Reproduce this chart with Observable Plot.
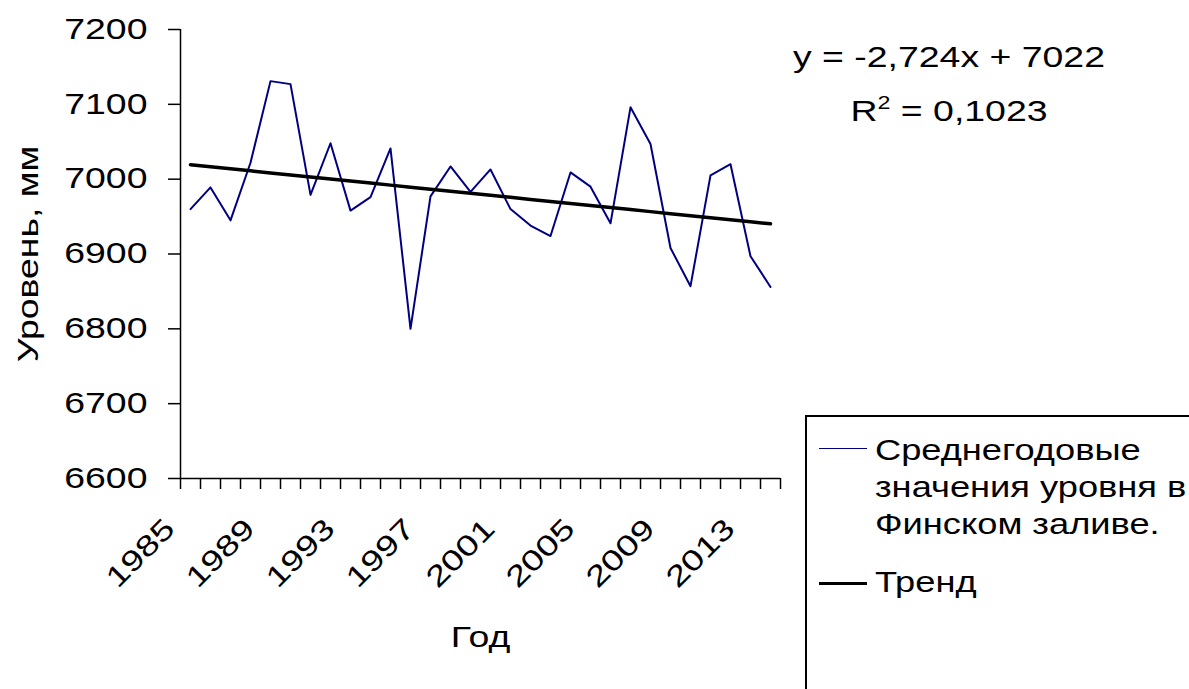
<!DOCTYPE html>
<html>
<head>
<meta charset="utf-8">
<script src="https://cdn.jsdelivr.net/npm/d3@7"></script>
<script src="https://cdn.jsdelivr.net/npm/@observablehq/plot@0.6"></script>
<style>
  html, body { margin: 0; padding: 0; background: #fff; overflow: hidden; }
  #wrap { position: relative; width: 1189px; height: 689px; font-family: "Liberation Sans", Arial, sans-serif; color: #000; }
  #chart { position: absolute; left: 0; top: 0; }
  .eq { position: absolute; font-size: 29px; line-height: 29px; white-space: nowrap; text-align: center; width: 400px; left: 749px; transform: scaleX(1.29); transform-origin: 200px 50%; }
  .eq sup { font-size: 18px; position: relative; top: -3px; vertical-align: top; line-height: 18px; }
  #legend { position: absolute; left: 805px; top: 415px; width: 420px; height: 320px; border: 2px solid #000; box-sizing: border-box; }
  .lgline { position: absolute; left: 12px; width: 48px; }
  .lgtext { position: absolute; left: 68px; font-size: 29px; line-height: 37px; white-space: nowrap; transform: scaleX(1.25); transform-origin: 0 50%; }
</style>
</head>
<body>
<div id="wrap">
  <div id="chart"></div>
  <div class="eq" style="top:43px">y = -2,724x + 7022</div>
  <div class="eq" style="top:97px">R<sup>2</sup> = 0,1023</div>
  <div id="legend">
    <div class="lgline" style="top:31px; border-top:1.5px solid #000080;"></div>
    <div class="lgtext" style="top:15px">Среднегодовые<br>значения уровня в<br>Финском заливе.</div>
    <div class="lgline" style="top:165px; border-top:3px solid #000;"></div>
    <div class="lgtext" style="top:147px">Тренд</div>
  </div>
</div>
<script>
const years = [1985,1986,1987,1988,1989,1990,1991,1992,1993,1994,1995,1996,1997,1998,1999,2000,2001,2002,2003,2004,2005,2006,2007,2008,2009,2010,2011,2012,2013,2014];
const levels = [6960,6989,6945,7022,7131,7127,6979,7048,6958,6976,7041,6800,6977,7017,6983,7013,6960,6938,6924,7009,6990,6941,7096,7047,6908,6857,7005,7020,6897,6856];
const yTicks = [6600,6700,6800,6900,7000,7100,7200];
const xTickLabels = [1985,1989,1993,1997,2001,2005,2009,2013];
const trendSlope = -2.724;
const trendIntercept = 7022;

const data = years.map((y, i) => ({year: y, level: levels[i]}));
const trend = years.map((y, i) => ({year: y, level: trendSlope * (i + 1) + trendIntercept}));
const bounds = [years[0] - 0.5, ...years.map(y => y + 0.5)];

const fontFamily = '"Liberation Sans", Arial, sans-serif';

const chart = Plot.plot({
  width: 1189,
  height: 689,
  marginLeft: 180,
  marginRight: 409,
  marginTop: 29,
  marginBottom: 211,
  style: {fontFamily, fontSize: "29px", color: "#000", background: "#fff"},
  x: {type: "linear", domain: [bounds[0], bounds[bounds.length - 1]]},
  y: {domain: [6600, 7200]},
  marks: [
    Plot.axisY({ticks: yTicks, tickSize: 12, tickPadding: 21, tickFormat: d => String(d), fontSize: 29, label: null, stroke: "#000", strokeWidth: 1.5}),
    Plot.axisX({ticks: bounds, tickSize: 11, tickFormat: () => "", label: null, stroke: "#000", strokeWidth: 1.5}),
    Plot.ruleX([bounds[0]], {stroke: "#000", strokeWidth: 1.5}),
    Plot.ruleY([6600], {stroke: "#000", strokeWidth: 1.5}),
    Plot.line(data, {x: "year", y: "level", stroke: "#000080", strokeWidth: 2}),
    Plot.line(trend, {x: "year", y: "level", stroke: "#000", strokeWidth: 3.5}),
    Plot.text(xTickLabels, {x: d => d, text: d => String(d), frameAnchor: "bottom", rotate: -45, textAnchor: "end", dx: -14, dy: 52, fontSize: 29, fill: "#000"}),
    Plot.text(["Уровень, мм"], {frameAnchor: "left", textAnchor: "middle", rotate: -90, dx: -152, fontSize: 29, fill: "#000"}),
    Plot.text(["Год"], {frameAnchor: "bottom", textAnchor: "middle", dy: 168, fontSize: 29, fill: "#000"})
  ]
});
// widen glyphs along their own direction, as in the reference rendering
chart.querySelectorAll("text").forEach(t => {
  const tr = t.getAttribute("transform") || "";
  t.setAttribute("transform", (tr + " scale(1.29,1)").trim());
});
document.getElementById("chart").appendChild(chart);
</script>
</body>
</html>
